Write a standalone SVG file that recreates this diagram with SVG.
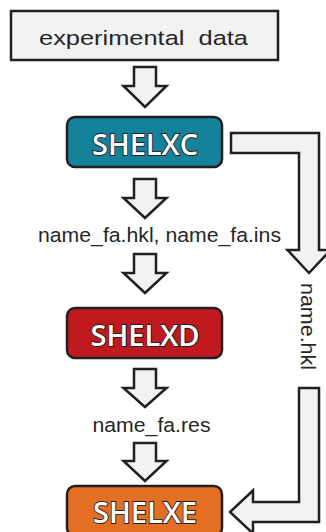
<svg xmlns="http://www.w3.org/2000/svg" width="326" height="532" viewBox="0 0 326 532">
  <style>
    .blk { fill: #f1f2f2; stroke: #231f20; stroke-width: 2.5; stroke-linejoin: miter; }
    .prog { stroke: #231f20; stroke-width: 2.5; }
    .prog-label { font-family: "Open Sans", "Noto Sans", sans-serif; font-size: 29px; font-weight: 600; fill: #ffffff; stroke: #231f20; stroke-width: 1.8; paint-order: stroke; text-anchor: middle; }
    .file { font-family: "Liberation Sans", Arial, sans-serif; font-size: 20.5px; fill: #262626; }
  </style>
  <rect width="326" height="532" fill="#ffffff"/>

  <!-- block arrows between the steps -->
  <g id="connectors">
    <path class="blk" d="M134,67 H156 V86 H166.5 L145,107 L123.5,86 H134 Z"/>
    <path class="blk" d="M134,179 H156 V198 H166.5 L145,218 L123.5,198 H134 Z"/>
    <path class="blk" d="M134,254 H156 V273 H166.5 L145,293 L123.5,273 H134 Z"/>
    <path class="blk" d="M134,369 H156 V388 H166.5 L145,407 L123.5,388 H134 Z"/>
    <path class="blk" d="M134,443 H156 V461 H166.5 L145,481 L123.5,461 H134 Z"/>
    <!-- bypass: SHELXC straight to SHELXE -->
    <path class="blk" d="M231,133 H319 V250 H330.5 L309,273 L287.5,250 H299 V153 H231 Z"/>
    <path class="blk" d="M299,388 H319 V522 H253 V533.5 L230,512 L253,490.5 V502 H299 Z"/>
  </g>

  <g id="experimental-data">
    <rect x="11" y="11" width="267" height="49" fill="#f1f2f2" stroke="#231f20" stroke-width="2.5"/>
    <text class="file" x="39" y="45" font-size="23.5" textLength="209" lengthAdjust="spacingAndGlyphs" xml:space="preserve">experimental  data</text>
  </g>

  <g id="shelxc">
    <rect class="prog" x="67" y="117" width="155" height="50" rx="8" fill="#14829a"/>
    <text class="prog-label" x="145" y="155">SHELXC</text>
  </g>

  <g id="fa-hkl-ins">
    <text class="file" x="38" y="242" textLength="243" lengthAdjust="spacingAndGlyphs">name_fa.hkl, name_fa.ins</text>
  </g>

  <g id="shelxd">
    <rect class="prog" x="67" y="308" width="155" height="50" rx="8" fill="#c0191f"/>
    <text class="prog-label" x="145" y="346">SHELXD</text>
  </g>

  <g id="fa-res">
    <text class="file" x="92.5" y="432" textLength="118" lengthAdjust="spacingAndGlyphs">name_fa.res</text>
  </g>

  <g id="shelxe">
    <rect class="prog" x="67" y="486" width="155" height="50" rx="8" fill="#e36f25"/>
    <text class="prog-label" x="145" y="523">SHELXE</text>
  </g>

  <g id="hkl">
    <text class="file" transform="translate(301,283) rotate(90)" x="0" y="0" textLength="87" lengthAdjust="spacingAndGlyphs">name.hkl</text>
  </g>
</svg>
